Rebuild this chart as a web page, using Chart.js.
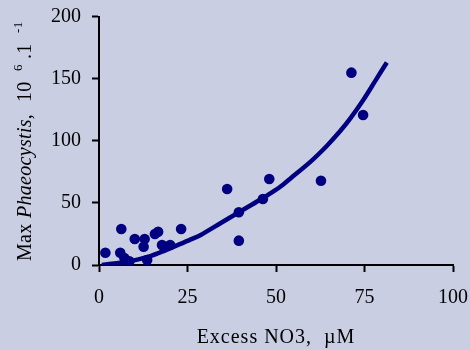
<!DOCTYPE html>
<html>
<head>
<meta charset="utf-8">
<script src="https://cdn.jsdelivr.net/npm/chart.js@4/dist/chart.umd.min.js"></script>
<style>
  html, body { margin: 0; padding: 0; background: #CACEE3; }
  #wrap { width: 470px; height: 350px; position: relative; }
</style>
</head>
<body>
<div id="wrap"><canvas id="c" width="470" height="350"></canvas></div>
<script>
// Observed data: excess NO3 (µM) vs max Phaeocystis (10^6 cells per litre)
const obsX = [1.8, 6.3, 6.0, 7.2, 8.6, 10.1, 12.9, 12.6, 13.6, 15.8, 16.7, 17.8, 20.1, 23.2, 36.2, 39.5, 39.5, 46.3, 48.1, 62.7, 71.3, 74.6];
const obsY = [9.9, 29.0, 9.9, 5.5, 3.0, 20.9, 20.9, 14.7, 4.0, 25.0, 26.8, 16.1, 16.1, 29.0, 61.2, 42.4, 19.6, 53.1, 69.2, 67.8, 154.8, 120.7];

// Fitted curve
const fitX = [0.8, 5, 8.4, 14, 17.8, 23, 26.3, 28.6, 34.3, 39.5, 45.4, 48.4, 51.2, 54, 59.7, 64.4, 68.2, 71, 74.7, 78, 81.3];
const fitY = [0.0, 1.5, 2.7, 6.7, 10.7, 17, 21, 24, 33.6, 42.4, 52.3, 57.7, 63, 69.5, 83, 96, 108, 118, 133, 148, 163];

const xTicks = [0, 25, 50, 75, 100];
const yTicks = [0, 50, 100, 150, 200];

const xTitle = 'Excess NO3,  µM';
// pos = distance (px) along the rotated title from its start
const yTitleParts = [
  { t: 'Max', italic: false, sup: false, pos: 0 },
  { t: 'Phaeocystis,', italic: true, sup: false, pos: 43 },
  { t: '10', italic: false, sup: false, pos: 159 },
  { t: '6', italic: false, sup: true, pos: 190 },
  { t: '.1', italic: false, sup: false, pos: 202 },
  { t: '-1', italic: false, sup: true, pos: 228 }
];

const FONT = '"Liberation Serif", "Times New Roman", serif';
const NAVY = '#000080';

const titlesPlugin = {
  id: 'titles',
  afterDraw(chart) {
    const ctx = chart.ctx;
    const ca = chart.chartArea;
    ctx.save();
    ctx.fillStyle = '#000';
    try { ctx.letterSpacing = '1px'; } catch (e) {}
    // x title
    ctx.font = '20px ' + FONT;
    ctx.textAlign = 'center';
    ctx.textBaseline = 'alphabetic';
    ctx.fillText(xTitle, (ca.left + ca.right) / 2, 343);
    // y title (rotated)
    try { ctx.letterSpacing = '0.3px'; } catch (e) {}
    ctx.translate(31, 261);
    ctx.rotate(-Math.PI / 2);
    ctx.textAlign = 'left';
    for (const p of yTitleParts) {
      ctx.font = (p.italic ? 'italic ' : '') + (p.sup ? '13px ' : '20px ') + FONT;
      ctx.fillText(p.t, p.pos, p.sup ? -9 : 0);
    }
    ctx.restore();
  }
};

const bgPlugin = {
  id: 'bg',
  beforeDraw(chart) {
    const ctx = chart.ctx;
    ctx.save();
    ctx.fillStyle = '#CACEE3';
    ctx.fillRect(0, 0, chart.width, chart.height);
    ctx.restore();
  }
};

new Chart(document.getElementById('c'), {
  type: 'scatter',
  data: {
    datasets: [
      {
        label: 'observed',
        data: obsX.map((x, i) => ({ x, y: obsY[i] })),
        backgroundColor: NAVY,
        borderColor: NAVY,
        pointRadius: 5.3,
        pointHoverRadius: 5.3,
        borderWidth: 0,
        order: 1
      },
      {
        label: 'fit',
        type: 'line',
        data: fitX.map((x, i) => ({ x, y: fitY[i] })),
        borderColor: NAVY,
        borderWidth: 4.5,
        pointRadius: 0,
        tension: 0.3,
        fill: false,
        order: 2
      }
    ]
  },
  options: {
    responsive: false,
    animation: false,
    events: [],
    layout: { padding: { left: 0, right: 17, top: 16.5, bottom: 0 } },
    plugins: { legend: { display: false }, tooltip: { enabled: false } },
    scales: {
      x: {
        type: 'linear',
        min: 0, max: 100,
        afterFit(s) { s.height = 85; s.paddingLeft = 0; s.paddingRight = 0; },
        afterBuildTicks(s) { s.ticks = xTicks.map(v => ({ value: v })); },
        ticks: { color: '#000', font: { family: FONT, size: 20 }, padding: 14, maxRotation: 0 },
        grid: { drawOnChartArea: false, drawTicks: true, tickLength: 7, color: '#000', tickWidth: 2 },
        border: { color: '#000', width: 2 }
      },
      y: {
        type: 'linear',
        min: 0, max: 200,
        afterFit(s) { s.width = 99; s.paddingTop = 0; s.paddingBottom = 0; },
        afterBuildTicks(s) { s.ticks = yTicks.map(v => ({ value: v })); },
        ticks: { color: '#000', font: { family: FONT, size: 20 }, padding: 11 },
        grid: { drawOnChartArea: false, drawTicks: true, tickLength: 7, color: '#000', tickWidth: 2 },
        border: { color: '#000', width: 2 }
      }
    }
  },
  plugins: [bgPlugin, titlesPlugin]
});
</script>
</body>
</html>
